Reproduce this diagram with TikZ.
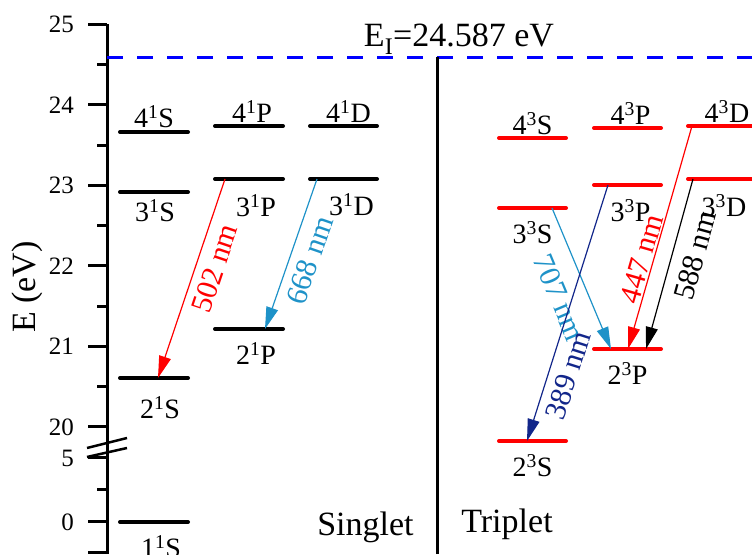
\documentclass[tikz,border=0pt]{standalone}
\usepackage{fontspec}
\setmainfont{Liberation Serif}
\usetikzlibrary{positioning, arrows.meta}

\definecolor{skyline}{RGB}{30,146,200}
\definecolor{navyline}{RGB}{18,38,138}

\begin{document}
\begin{tikzpicture}[
  x=1pt, y=1pt,
  axisline/.style={line width=3pt},
  lvl/.style={line width=4pt, line cap=round},
  lab/.style={inner sep=0pt, font=\fontsize{28}{32}\selectfont},
  big/.style={inner sep=0pt, font=\fontsize{34}{40}\selectfont},
  ticklab/.style={inner sep=0pt, anchor=east, font=\fontsize{25}{29}\selectfont},
  trans/.style={line width=1.2pt, -{Triangle[length=22pt, width=12pt]}},
  wl/.style={inner sep=0pt, sloped, font=\fontsize{30}{34}\selectfont},
]
  \useasboundingbox (0,0) rectangle (752,554);

  % Energy axis
  \draw[axisline] (107,0) -- (107,530);
  \foreach \e/\y in {25/529.5, 24/449, 23/368.5, 22/288, 21/207.5, 20/127, 5/96, 0/32} {
    \draw[axisline] (88,\y) -- (107,\y);
    \node[ticklab] (tk\e) at (74,\y) {\e};
  }
  \foreach \y in {489, 408.5, 328, 247.5, 167, 64} { \draw[axisline] (97,\y) -- (107,\y); }
  \draw[axisline] (88,2) -- (107,2);

  % Axis break
  \draw[line width=2.5pt] (87,97) -- (127,106);
  \draw[line width=2.5pt] (87,106) -- (127,116);

  \node[big, rotate=90] (ylab) at (27,267) {E (eV)};

  % Ionisation limit
  \draw[blue, line width=3pt, dash pattern=on 16pt off 14pt] (107,496.5) -- (752,496.5);
  \node[big, anchor=base] (ion) at (459,507) {E\textsubscript{I}=24.587 eV};

  % Singlet / triplet divider
  \draw[axisline] (437,0) -- (437,497);

  % Singlet levels
  \draw[lvl] (120,32)  -- coordinate (s1) (188,32);
  \draw[lvl] (120,176) -- coordinate (s2) (188,176);
  \draw[lvl] (120,362) -- coordinate (s3) (188,362);
  \draw[lvl] (120,422) -- coordinate (s4) (188,422);
  \draw[lvl] (215,225) -- coordinate (p2) (283,225);
  \draw[lvl] (215,375) -- coordinate (p3) (283,375);
  \draw[lvl] (215,428) -- coordinate (p4) (283,428);
  \draw[lvl] (310,375) -- coordinate (d3) (377,375);
  \draw[lvl] (310,428) -- coordinate (d4) (377,428);

  \node[lab, below=13pt of s1, xshift=7pt] (s1l) {1\textsuperscript{1}S};
  \node[lab, below=18pt of s2, xshift=6pt] (s2l) {2\textsuperscript{1}S};
  \node[lab, below=7pt of s3, xshift=1pt]  (s3l) {3\textsuperscript{1}S};
  \node[lab, above=4pt of s4]              (s4l) {4\textsuperscript{1}S};
  \node[lab, below=13pt of p2, xshift=7pt] (p2l) {2\textsuperscript{1}P};
  \node[lab, below=15pt of p3, xshift=7pt] (p3l) {3\textsuperscript{1}P};
  \node[lab, above=3pt of p4, xshift=3pt]  (p4l) {4\textsuperscript{1}P};
  \node[lab, below=14pt of d3, xshift=8pt] (d3l) {3\textsuperscript{1}D};
  \node[lab, above=3pt of d4, xshift=5pt]  (d4l) {4\textsuperscript{1}D};

  % Triplet levels
  \draw[lvl, red] (499,113) -- coordinate (t2s) (566,113);
  \draw[lvl, red] (499,346) -- coordinate (t3s) (566,346);
  \draw[lvl, red] (499,416) -- coordinate (t4s) (566,416);
  \draw[lvl, red] (594,205) -- coordinate (t2p) (661,205);
  \draw[lvl, red] (594,369) -- coordinate (t3p) (661,369);
  \draw[lvl, red] (594,426) -- coordinate (t4p) (661,426);
  \draw[lvl, red] (688,375) -- coordinate (t3d) (760,375);
  \draw[lvl, red] (688,428) -- coordinate (t4d) (760,428);

  \node[lab, below=13pt of t2s]             (t2sl) {2\textsuperscript{3}S};
  \node[lab, below=13pt of t3s]             (t3sl) {3\textsuperscript{3}S};
  \node[lab, above=3pt of t4s]              (t4sl) {4\textsuperscript{3}S};
  \node[lab, below=13pt of t2p]             (t2pl) {2\textsuperscript{3}P};
  \node[lab, below=14pt of t3p, xshift=3pt] (t3pl) {3\textsuperscript{3}P};
  \node[lab, above=3pt of t4p, xshift=3pt]  (t4pl) {4\textsuperscript{3}P};
  \node[lab, below=15pt of t3d]             (t3dl) {3\textsuperscript{3}D};
  \node[lab, above=3pt of t4d, xshift=3pt]  (t4dl) {4\textsuperscript{3}D};

  % Transitions
  \draw[trans, red] ([xshift=-24pt]p3) -- node[wl, pos=0.42, below=8pt] (w502) {502 nm} ([xshift=4pt]s2);
  \draw[trans, skyline] ([xshift=-26.5pt]d3) -- node[wl, pos=0.5, below=9pt] (w668) {668 nm} ([xshift=16pt]p2);
  \draw[trans, skyline] ([xshift=19.5pt]t3s) -- node[wl, pos=0.56, below=17pt] (w707) {707 nm} ([xshift=-16.5pt]t2p);
  \draw[trans, navyline] ([xshift=-19.5pt]t3p) -- node[wl, pos=0.72, below=8.5pt] (w389) {389 nm} ([xshift=-5.5pt]t2s);
  \draw[trans, red] ([xshift=-32pt]t4d) -- node[wl, pos=0.61, above=1.5pt] (w447) {447 nm} ([xshift=0.5pt]t2p);
  \draw[trans, black] ([xshift=-31pt]t3d) -- node[wl, pos=0.415, below=12pt] (w588) {588 nm} ([xshift=18.5pt]t2p);

  % Panel names
  \node[big, anchor=base] (sing) at (365.5,19) {Singlet};
  \node[big, anchor=base] (trip) at (507,21) {Triplet};
\end{tikzpicture}
\end{document}
